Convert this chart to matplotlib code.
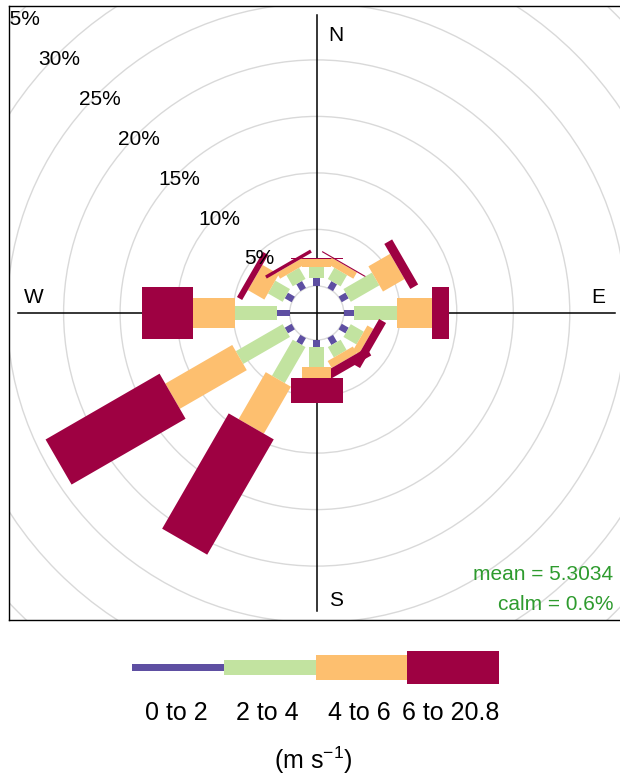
import numpy as np
import matplotlib
matplotlib.use("Agg")
import matplotlib.pyplot as plt
from matplotlib.patches import Polygon, Circle, Rectangle

plt.rcParams['font.family'] = ['Liberation Sans', 'DejaVu Sans']
plt.rcParams['mathtext.fontset'] = 'custom'
plt.rcParams['mathtext.rm'] = 'Liberation Sans'
plt.rcParams['mathtext.it'] = 'Liberation Sans:italic'

# wind direction sectors (degrees from north), 30 degree bins
directions = [0, 30, 60, 90, 120, 150, 180, 210, 240, 270, 300, 330]

# frequency (%) of each speed class per sector
freq_0_2 = [0.68, 0.70, 0.71, 0.91, 0.71, 0.71, 0.62, 0.71, 0.71, 1.15, 0.71, 0.71]
freq_2_4 = [1.00, 1.15, 2.92, 3.81, 1.33, 1.06, 1.80, 3.68, 4.78, 3.69, 1.50, 1.14]
freq_4_6 = [0.67, 0.65, 2.21, 3.12, 0.61, 0.71, 0.97, 4.80, 6.84, 3.69, 1.68, 0.60]
freq_6_208 = [0.13, 0.10, 0.80, 1.48, 0.71, 0.79, 2.16, 11.78, 11.65, 4.57, 0.53, 0.30]

speed_labels = ["0 to 2", "2 to 4", "4 to 6", "6 to 20.8"]
colours = ["#5E4FA2", "#C2E3A0", "#FDBF6F", "#9E0142"]
ring_values = [0, 5, 10, 15, 20, 25, 30, 35]
mean_ws = 5.3034
calm_pct = 0.6

W, H, DPI = 620, 778, 100
fig = plt.figure(figsize=(W / DPI, H / DPI), dpi=DPI)


def px_axes(left, top, width, height):
    return fig.add_axes([left / W, 1 - (top + height) / H, width / W, height / H])


def fig_text(x, y, s, **kw):
    fig.text(x / W, 1 - y / H, s, **kw)


# main rose panel, 11.3 px per percent, centre at (316.7, 313)
ppu = 11.3
ax = px_axes(9, 6, 615, 614)
ax.set_xlim(-307.7 / ppu, 307.3 / ppu)
ax.set_ylim(-307 / ppu, 307 / ppu)
ax.set_xticks([])
ax.set_yticks([])
for sp in ax.spines.values():
    sp.set_linewidth(1.0)
    sp.set_color("black")

stack = np.vstack([freq_0_2, freq_2_4, freq_4_6, freq_6_208])
cum = np.cumsum(stack, axis=0)
max_freq = cum[-1].max()
off = max_freq * 0.1
box_w = np.linspace(0.002 ** 0.25, 0.016 ** 0.25, len(speed_labels)) ** 4 * max_freq * 30 / 5

# grey rings
for v in ring_values:
    ax.add_patch(Circle((0, 0), v + off, fill=False, edgecolor="#D9D9D9", lw=1.0, zorder=1))

lim = 26.4
ax.plot([-lim, lim], [0, 0], color="black", lw=1.1, zorder=2)
ax.plot([0, 0], [-lim, lim], color="black", lw=1.1, zorder=2)

# paddles
for k, wd in enumerate(directions):
    th = np.radians(wd)
    s, c = np.sin(th), np.cos(th)
    lo = 0.0
    for j in range(len(speed_labels)):
        hi = cum[j, k]
        r1, r2 = lo + off, hi + off
        w = box_w[j]
        pts = [(r1 * s - w * c, r1 * c + w * s),
               (r1 * s + w * c, r1 * c - w * s),
               (r2 * s + w * c, r2 * c - w * s),
               (r2 * s - w * c, r2 * c + w * s)]
        ax.add_patch(Polygon(pts, closed=True, facecolor=colours[j],
                             edgecolor="none", zorder=3))
        lo = hi

# ring labels along the north-west diagonal
for v in ring_values[1:]:
    r = v + off
    ax.text(-r * np.sin(np.pi / 4) + 0.15, r * np.cos(np.pi / 4) - 0.45, f"{v}%",
            ha="center", va="center", fontsize=15, color="black",
            zorder=5, clip_on=True)

ax.text(1.7, 24.55, "N", ha="center", va="center", fontsize=15)
ax.text(24.9, 1.4, "E", ha="center", va="center", fontsize=15)
ax.text(1.7, -25.45, "S", ha="center", va="center", fontsize=15)
ax.text(-25.0, 1.4, "W", ha="center", va="center", fontsize=15)

fig_text(613, 574, f"mean = {mean_ws}", ha="right", va="center",
         fontsize=15, color="#2E9B2E")
fig_text(613, 605, f"calm = {calm_pct}%", ha="right", va="center",
         fontsize=15, color="#2E9B2E")

# speed key
key_h = [7.7, 15.7, 25.7, 32.7]
kax = px_axes(132, 640, 367, 55)
kax.set_xlim(0, len(speed_labels))
kax.set_ylim(-27.5, 27.5)
kax.axis("off")
for j, lab in enumerate(speed_labels):
    kax.add_patch(Rectangle((j, -key_h[j] / 2), 1, key_h[j],
                            facecolor=colours[j], edgecolor="none"))
    fig_text(132 + 367 / 4 * (j + 0.5) - 2, 713, lab, ha="center",
             va="center", fontsize=18)

fig_text(313, 760, r"(m s$^{-1}$)", ha="center", va="center", fontsize=18)

fig.savefig("out.png", dpi=DPI)
